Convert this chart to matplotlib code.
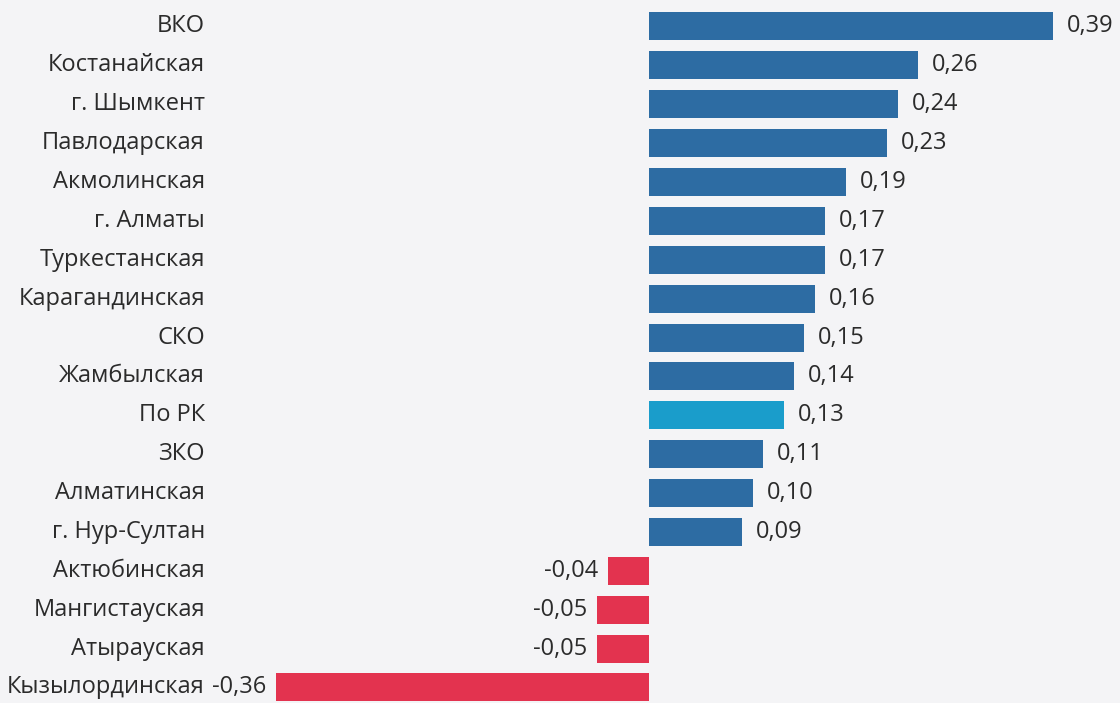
import matplotlib.pyplot as plt
import matplotlib.transforms as mtransforms

# Data
regions = ["ВКО", "Костанайская", "г. Шымкент", "Павлодарская", "Акмолинская",
           "г. Алматы", "Туркестанская", "Карагандинская", "СКО", "Жамбылская",
           "По РК", "ЗКО", "Алматинская", "г. Нур-Султан", "Актюбинская",
           "Мангистауская", "Атырауская", "Кызылординская"]
values = [0.39, 0.26, 0.24, 0.23, 0.19, 0.17, 0.17, 0.16, 0.15, 0.14,
          0.13, 0.11, 0.10, 0.09, -0.04, -0.05, -0.05, -0.36]
total_label = "По РК"

blue = "#2d6ca3"
cyan = "#1a9dcb"
red = "#e3334f"
bg = "#f4f4f6"
text_color = "#2b2b2b"

plt.rcParams['font.family'] = ['Open Sans', 'DejaVu Sans']

fig = plt.figure(figsize=(11.2, 7.03), dpi=100, facecolor=bg)
ax = fig.add_axes([0, 0, 1, 1])
ax.set_facecolor(bg)

colors = []
for name, v in zip(regions, values):
    if name == total_label:
        colors.append(cyan)
    elif v < 0:
        colors.append(red)
    else:
        colors.append(blue)

y = list(range(len(regions)))
ax.barh(y, values, height=0.72, color=colors)

# axis limits chosen so zero sits at ~x=649px
ax.set_xlim(-0.6264, 0.4546)
ax.set_ylim(17.4, -0.68)

# category labels, right aligned
trans = mtransforms.blended_transform_factory(ax.transAxes, ax.transData)
for yi, name in zip(y, regions):
    ax.text(0.183, yi, name, transform=trans, ha='right', va='center',
            fontsize=17, color=text_color)

# value labels
for yi, v in zip(y, values):
    s = f"{v:.2f}".replace(".", ",")
    if v >= 0:
        ax.annotate(s, (v, yi), xytext=(10, 0), textcoords='offset points',
                    ha='left', va='center', fontsize=17, color=text_color)
    else:
        ax.annotate(s, (v, yi), xytext=(-7, 0), textcoords='offset points',
                    ha='right', va='center', fontsize=17, color=text_color)

ax.axis('off')
plt.savefig("out.png", dpi=100, facecolor=bg)
